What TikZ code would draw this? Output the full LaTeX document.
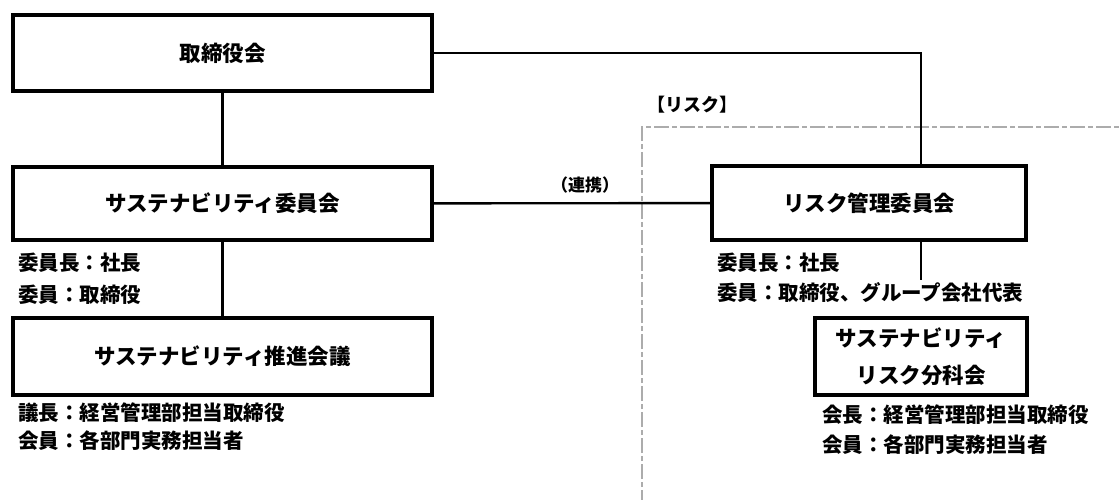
\documentclass[tikz,border=0pt]{standalone}
\usepackage{fontspec}
\setmainfont{Noto Sans CJK JP}
\usetikzlibrary{positioning}

\tikzset{
  board/.style = {draw, shape = rectangle, line width = 3.5pt, inner sep = 0pt, minimum height = 75pt, font = \bfseries\fontsize{21.5}{37}\selectfont},
  member/.style = {anchor = west, inner sep = 0pt, font = \bfseries\fontsize{20.5}{22}\selectfont},
  link/.style = {line width = 2.4pt}
}

\begin{document}
\begin{tikzpicture}[x = 1pt, y = -1pt]
\useasboundingbox (0,0) rectangle (1119,499);
\node[board, minimum width = 419pt, minimum height = 76pt] (1) at (222.5,53) {取締役会};
\node[board, minimum width = 419pt, minimum height = 73pt] (2) at (222.5,203.5) {サステナビリティ委員会};
\node[board, minimum width = 419pt, minimum height = 77pt] (3) at (222.5,356.5) {サステナビリティ推進会議};
\node[board, minimum width = 314pt, minimum height = 74pt] (4) at (869,203) {リスク管理委員会};
\node[board, minimum width = 212pt, minimum height = 77pt, align = center] (5) at (921,356.5) {サステナビリティ\\リスク分科会};
\coordinate (6) at (921,280);
% risk area
\draw[gray!65, line width = 1.5pt, dash pattern = on 15pt off 3pt on 5pt off 3pt] (642,505) |- (1125,127);
\node[font = \bfseries\fontsize{18}{22}\selectfont] (7) at (692,105) {【リスク】};
\node[font = \bfseries\fontsize{17}{22}\selectfont] (8) at (585,185) {（連携）};
\begin{scope}[nodes = {member}]
\node (9) at (18,263) {委員長：社長};
\node (10) at (18,295) {委員：取締役};
\node (11) at (18,413) {議長：経営管理部担当取締役};
\node (12) at (18,441) {会員：各部門実務担当者};
\node (13) at (717,263) {委員長：社長};
\node (14) at (717,293) {委員：取締役、グループ会社代表};
\node (15) at (822,415) {会長：経営管理部担当取締役};
\node (16) at (822,445) {会員：各部門実務担当者};
\end{scope}
\draw[link] (1) -- (2);
\draw[link] (2) -- (3);
\draw[link] (2) -- (4);
\draw[link] (1.east) -| (4.north -| 6);
\draw[link] (4.south -| 6) -- (6);
\end{tikzpicture}
\end{document}
